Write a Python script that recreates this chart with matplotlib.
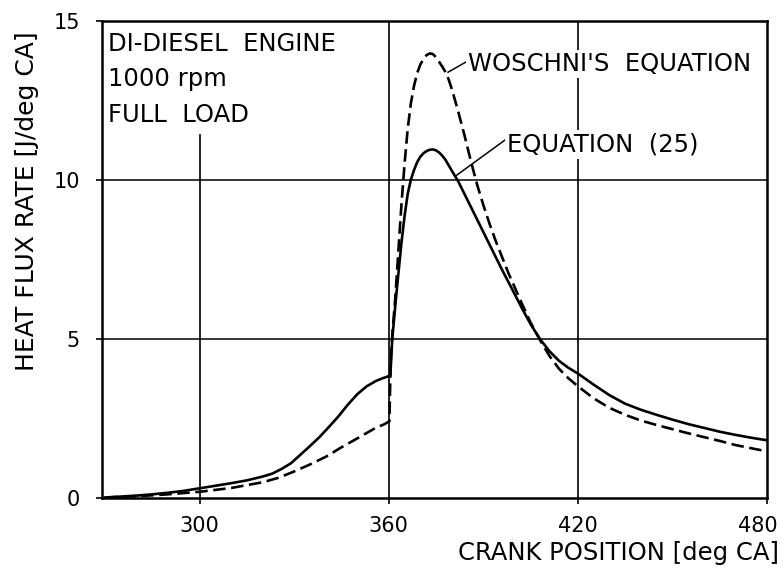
import matplotlib
matplotlib.use("Agg")
import matplotlib.pyplot as plt
from matplotlib.transforms import ScaledTranslation

plt.rcParams['font.family'] = ['DejaVu Sans']
plt.rcParams['lines.scale_dashes'] = False

# crank angle [deg CA] and heat flux rate [J/deg CA]
x_eq25 = [270, 275, 280, 285, 290, 295, 300, 305, 310, 315, 320, 323, 326, 329,
          332, 335, 338, 341, 344, 347, 350, 353, 356, 358, 359.5, 360.5, 361.1,
          361.8, 362.4, 363.2, 364, 365, 366, 367, 368, 369, 370, 371, 372, 373,
          374, 375, 376, 377, 378, 379, 380, 382, 384, 387, 390, 393, 396, 399,
          402, 405, 408, 411, 414, 417, 420, 425, 430, 435, 440, 445, 450, 455,
          460, 465, 470, 475, 480]
y_eq25 = [0.0, 0.03, 0.06, 0.1, 0.15, 0.21, 0.29, 0.37, 0.45, 0.54, 0.66, 0.75,
          0.9, 1.08, 1.35, 1.62, 1.9, 2.22, 2.55, 2.92, 3.25, 3.5, 3.67, 3.75,
          3.8, 3.86, 5.0, 5.75, 6.4, 7.2, 8.0, 8.85, 9.55, 10.0, 10.3, 10.55,
          10.72, 10.83, 10.9, 10.94, 10.95, 10.92, 10.85, 10.75, 10.62, 10.45,
          10.28, 9.95, 9.55, 8.95, 8.35, 7.75, 7.15, 6.58, 6.0, 5.45, 4.98, 4.6,
          4.3, 4.08, 3.9, 3.55, 3.22, 2.95, 2.76, 2.6, 2.45, 2.31, 2.19, 2.07,
          1.97, 1.88, 1.8]

x_woschni = [270, 275, 280, 285, 290, 295, 300, 305, 310, 315, 320, 325, 330,
             335, 340, 345, 350, 353, 356, 358.5, 360.2, 360.4, 360.7, 361.2,
             362, 363, 364, 365, 366, 367, 368, 369, 370, 371, 372, 373, 374,
             375, 376, 377, 378, 379, 380, 382, 384, 386, 388, 390, 392, 394,
             396, 398, 400, 402, 405, 408, 411, 414, 417, 420, 425, 430, 435,
             440, 445, 450, 455, 460, 465, 470, 475, 480]
y_woschni = [0.0, 0.02, 0.04, 0.07, 0.1, 0.14, 0.18, 0.24, 0.3, 0.39, 0.48,
             0.62, 0.82, 1.04, 1.28, 1.58, 1.86, 2.03, 2.2, 2.3, 2.4, 3.4, 4.5,
             5.25, 6.2, 7.7, 9.2, 10.5, 11.6, 12.4, 12.95, 13.35, 13.62, 13.8,
             13.92, 13.97, 13.95, 13.85, 13.7, 13.55, 13.38, 13.15, 12.85,
             12.15, 11.4, 10.6, 9.85, 9.2, 8.6, 8.05, 7.55, 7.05, 6.6, 6.15,
             5.5, 4.95, 4.45, 4.05, 3.75, 3.5, 3.12, 2.82, 2.6, 2.42, 2.28,
             2.15, 2.02, 1.9, 1.78, 1.65, 1.55, 1.45]

x_ticks = [300, 360, 420, 480]
y_ticks = [0, 5, 10, 15]
info_lines = ["DI-DIESEL  ENGINE", "1000 rpm", "FULL  LOAD"]

W, H = 783, 569
fig = plt.figure(figsize=(W / 100, H / 100), dpi=100)
ax = fig.add_axes([102 / W, 1 - 497.5 / H, 665 / W, 476.8 / H])

ax.set_xlim(269, 480)
ax.set_ylim(0, 15)

# grid drawn by hand (300 line stops under the text block)
for xv in [360, 420]:
    ax.axvline(xv, color='black', lw=1.2, zorder=1)
ax.axvline(300, ymax=11.4 / 15, color='black', lw=1.2, zorder=1)
for yv in [5, 10]:
    ax.axhline(yv, color='black', lw=1.1, zorder=1)

ax.plot(x_eq25, y_eq25, color='black', lw=1.9, zorder=3)
ax.plot(x_woschni, y_woschni, color='black', lw=1.9, ls=(0, (9, 4)), zorder=3)

ax.set_xticks(x_ticks)
ax.set_yticks(y_ticks)
ax.tick_params(direction='out', length=4, width=1.2, labelsize=15, colors='black')
ax.tick_params(axis='y', pad=12)
ax.tick_params(axis='x', pad=9)
for s in ax.spines.values():
    s.set_linewidth(1.8)

# last x label sits a bit left of its tick, as in the original
last = ax.get_xticklabels()[-1]
last.set_transform(last.get_transform() + ScaledTranslation(-0.09, 0, fig.dpi_scale_trans))

txt_kw = dict(fontsize=17.5, color='black', va='baseline', ha='left')
for txt, yb in zip(info_lines, [14.05, 12.93, 11.8]):
    ax.text(270.8, yb, txt, **txt_kw)

box = dict(facecolor='white', edgecolor='none', pad=1.5)
ax.plot([378.8, 385.0], [13.38, 13.73], color='black', lw=1.1, zorder=4)
ax.text(385.2, 13.41, "WOSCHNI'S  EQUATION", bbox=box, zorder=5, **txt_kw)
ax.plot([381.0, 397.2], [10.1, 11.27], color='black', lw=1.1, zorder=4)
ax.text(397.6, 10.88, "EQUATION  (25)", bbox=box, zorder=5, **txt_kw)

fig.text(27 / W, 1 - 201 / H, "HEAT FLUX RATE [J/deg CA]", rotation=90,
         fontsize=18, ha='center', va='center')
fig.text(779 / W, 1 - 553 / H, "CRANK POSITION [deg CA]", fontsize=17.5,
         ha='right', va='center')

fig.savefig("out.png", dpi=100, facecolor='white')
